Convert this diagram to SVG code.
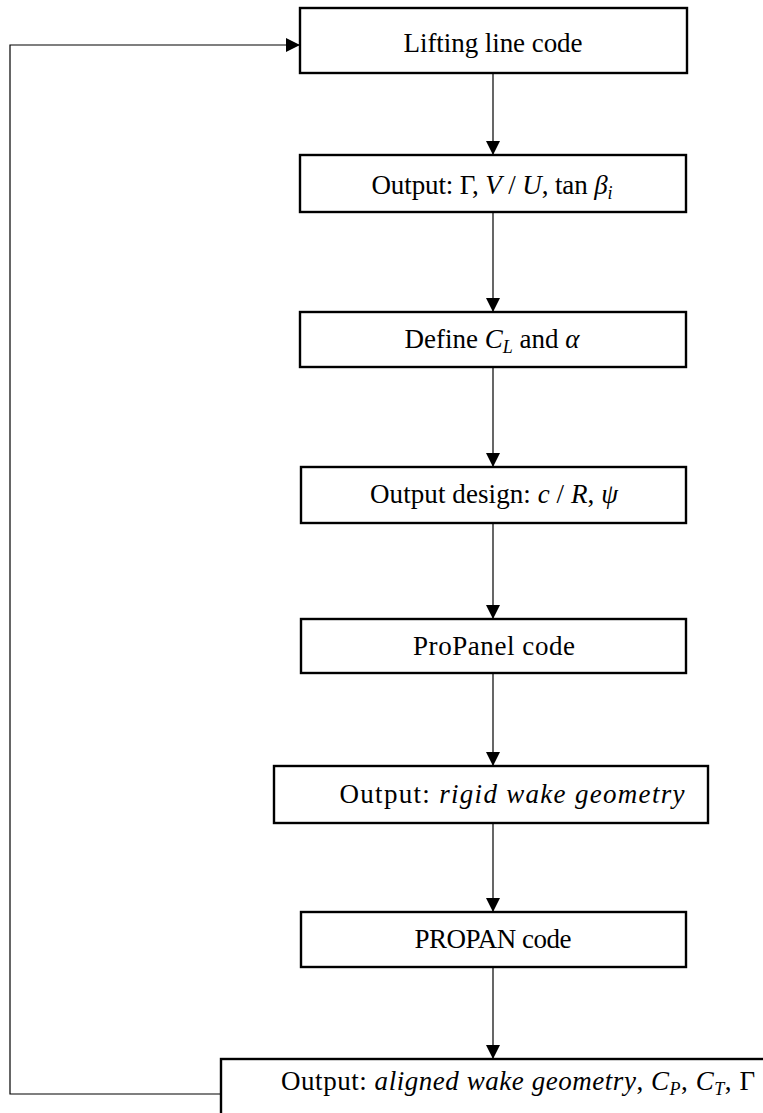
<svg xmlns="http://www.w3.org/2000/svg" width="763" height="1113" viewBox="0 0 763 1113">
<style>
.box{fill:#fff;stroke:#000;stroke-width:2.4}
.con{fill:none;stroke:#000;stroke-width:1.2}
text{font-family:"Liberation Serif","Times New Roman",serif;font-size:27px;fill:#000;text-anchor:middle}
.m{font-style:italic}
.s{font-style:italic;font-size:18px}
</style>
<defs>
<marker id="ah" markerUnits="userSpaceOnUse" markerWidth="15" markerHeight="15" refX="14" refY="7" orient="auto">
<path d="M0,0 L14,7 L0,14 z" fill="#000"/>
</marker>
</defs>
<rect width="763" height="1113" fill="#fff"/>
<g id="connectors">
<path class="con" d="M493,73 V155" marker-end="url(#ah)"/>
<path class="con" d="M493,212 V312" marker-end="url(#ah)"/>
<path class="con" d="M493,367 V467" marker-end="url(#ah)"/>
<path class="con" d="M493,523 V619" marker-end="url(#ah)"/>
<path class="con" d="M493,673 V766" marker-end="url(#ah)"/>
<path class="con" d="M493,823 V912" marker-end="url(#ah)"/>
<path class="con" d="M493,967 V1059" marker-end="url(#ah)"/>
<path class="con" d="M221,1094 H10 V45 H300" marker-end="url(#ah)"/>
</g>
<g id="n1">
<rect class="box" x="300" y="8" width="387" height="65"/>
<text x="493" y="52" textLength="179">Lifting line code</text>
</g>
<g id="n2">
<rect class="box" x="300" y="155" width="386" height="57"/>
<text x="492" y="194" textLength="241">Output: Γ, <tspan class="m">V</tspan> / <tspan class="m">U</tspan>, tan <tspan class="m">β</tspan><tspan class="s" dy="5">i</tspan></text>
</g>
<g id="n3">
<rect class="box" x="300" y="312" width="386" height="55"/>
<text x="492" y="348" textLength="175">Define <tspan class="m">C</tspan><tspan class="s" dy="5">L</tspan><tspan dy="-5"> and </tspan><tspan class="m">α</tspan></text>
</g>
<g id="n4">
<rect class="box" x="301" y="467" width="385" height="56"/>
<text x="494" y="503" textLength="248">Output design: <tspan class="m">c</tspan> / <tspan class="m">R</tspan>,  <tspan class="m">ψ</tspan></text>
</g>
<g id="n5">
<rect class="box" x="301" y="619" width="385" height="54"/>
<text x="494" y="655" textLength="162">ProPanel code</text>
</g>
<g id="n6">
<rect class="box" x="274" y="766" width="434" height="57"/>
<text x="512" y="803" textLength="345">Output: <tspan class="m">rigid wake geometry</tspan></text>
</g>
<g id="n7">
<rect class="box" x="301" y="912" width="385" height="55"/>
<text x="493" y="948" textLength="157">PROPAN code</text>
</g>
<g id="n8">
<rect class="box" x="221" y="1059" width="580" height="70"/>
<text x="518" y="1090" textLength="474">Output: <tspan class="m">aligned wake geometry</tspan>, <tspan class="m">C</tspan><tspan class="s" dy="5">P</tspan><tspan dy="-5">, </tspan><tspan class="m">C</tspan><tspan class="s" dy="5">T</tspan><tspan dy="-5">, Γ</tspan></text>
</g>
</svg>
